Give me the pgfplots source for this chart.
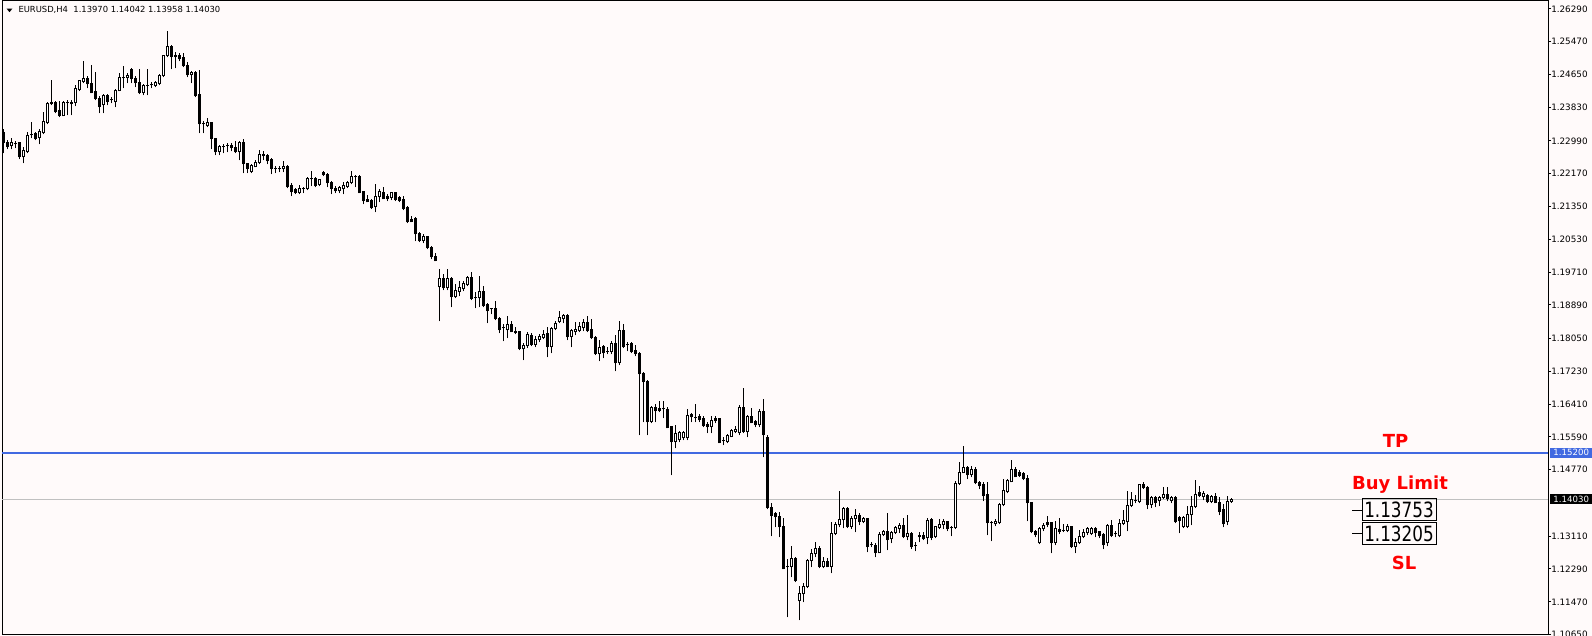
\documentclass[border=0pt]{standalone}
\usepackage{fontspec}
\setmainfont{DejaVu Sans}
\usepackage{graphicx}
\usepackage{pgfplots}
\usepackage{pgfplotstable}
\pgfplotsset{compat=1.18}
\definecolor{snow}{RGB}{255,250,250}
\definecolor{royal}{RGB}{65,105,225}
\definecolor{silverl}{RGB}{192,192,192}
\definecolor{mtred}{RGB}{255,0,0}

\pgfplotstableread{
i o h l c
0 1.23190 1.23265 1.22690 1.22940
1 1.22940 1.22990 1.22790 1.22840
2 1.22865 1.23040 1.22790 1.22940
3 1.22915 1.22965 1.22815 1.22915
4 1.22940 1.22940 1.22540 1.22590
5 1.22590 1.22815 1.22440 1.22740
6 1.22715 1.23190 1.22690 1.23115
7 1.23140 1.23440 1.23065 1.23140
8 1.23165 1.23190 1.23015 1.23040
9 1.23065 1.23265 1.22915 1.23215
10 1.23190 1.23690 1.23165 1.23465
11 1.23440 1.23940 1.23415 1.23915
12 1.23940 1.24490 1.23890 1.23915
13 1.23940 1.23965 1.23690 1.23715
14 1.23740 1.23965 1.23590 1.23615
15 1.23615 1.23965 1.23615 1.23940
16 1.23940 1.23990 1.23640 1.23940
17 1.23915 1.23990 1.23640 1.23940
18 1.23940 1.24365 1.23865 1.24290
19 1.24265 1.24490 1.24240 1.24490
20 1.24465 1.24965 1.24440 1.24540
21 1.24540 1.24590 1.24315 1.24415
22 1.24415 1.24865 1.24190 1.24190
23 1.24215 1.24690 1.24015 1.24040
24 1.24040 1.24090 1.23690 1.23840
25 1.23890 1.24140 1.23690 1.24115
26 1.24115 1.24140 1.23890 1.23965
27 1.24015 1.24065 1.23940 1.24015
28 1.23965 1.24265 1.23840 1.24240
29 1.24240 1.24665 1.24240 1.24565
30 1.24565 1.24840 1.24315 1.24565
31 1.24565 1.24665 1.24440 1.24615
32 1.24765 1.24790 1.24440 1.24540
33 1.24540 1.24590 1.24340 1.24440
34 1.24440 1.24765 1.24165 1.24190
35 1.24190 1.24390 1.24140 1.24365
36 1.24365 1.24765 1.24140 1.24365
37 1.24390 1.24440 1.24315 1.24390
38 1.24365 1.24465 1.24340 1.24440
39 1.24415 1.24640 1.24390 1.24615
40 1.24615 1.25115 1.24590 1.25115
41 1.25115 1.25715 1.25090 1.25340
42 1.25340 1.25365 1.24790 1.25090
43 1.25115 1.25190 1.24815 1.25090
44 1.25115 1.25165 1.24990 1.25040
45 1.25065 1.25165 1.24840 1.24865
46 1.24865 1.24940 1.24590 1.24640
47 1.24640 1.24715 1.24440 1.24690
48 1.24690 1.24715 1.24090 1.24115
49 1.24140 1.24740 1.23190 1.23415
50 1.23415 1.23465 1.23190 1.23415
51 1.23365 1.23540 1.23340 1.23440
52 1.23440 1.23440 1.22790 1.23040
53 1.23040 1.23040 1.22640 1.22715
54 1.22715 1.22865 1.22640 1.22840
55 1.22840 1.22890 1.22690 1.22840
56 1.22865 1.22915 1.22715 1.22865
57 1.22865 1.22915 1.22740 1.22815
58 1.22815 1.22965 1.22690 1.22715
59 1.22715 1.22965 1.22515 1.22940
60 1.22940 1.23015 1.22190 1.22415
61 1.22415 1.22415 1.22190 1.22290
62 1.22215 1.22390 1.22190 1.22365
63 1.22340 1.22490 1.22340 1.22440
64 1.22440 1.22740 1.22415 1.22640
65 1.22640 1.22715 1.22515 1.22615
66 1.22615 1.22640 1.22415 1.22490
67 1.22515 1.22540 1.22165 1.22290
68 1.22290 1.22340 1.22190 1.22290
69 1.22290 1.22340 1.22215 1.22290
70 1.22290 1.22465 1.22215 1.22340
71 1.22340 1.22365 1.21815 1.21840
72 1.21865 1.21915 1.21615 1.21715
73 1.21765 1.21790 1.21665 1.21690
74 1.21690 1.21865 1.21665 1.21790
75 1.21790 1.21815 1.21690 1.21790
76 1.21790 1.22065 1.21765 1.22040
77 1.22040 1.22215 1.21865 1.22040
78 1.22040 1.22065 1.21840 1.21865
79 1.21890 1.22015 1.21865 1.22015
80 1.22190 1.22215 1.22115 1.22140
81 1.22140 1.22165 1.21840 1.21940
82 1.21940 1.21965 1.21665 1.21790
83 1.21790 1.21840 1.21690 1.21740
84 1.21740 1.21840 1.21690 1.21815
85 1.21790 1.21940 1.21665 1.21865
86 1.21840 1.21965 1.21815 1.21940
87 1.21940 1.22215 1.21915 1.22090
88 1.22090 1.22115 1.21840 1.22090
89 1.22090 1.22115 1.21690 1.21690
90 1.21715 1.21715 1.21415 1.21490
91 1.21515 1.21615 1.21465 1.21465
92 1.21490 1.21515 1.21290 1.21315
93 1.21340 1.21890 1.21215 1.21590
94 1.21590 1.21765 1.21465 1.21715
95 1.21690 1.21815 1.21540 1.21540
96 1.21590 1.21640 1.21490 1.21540
97 1.21565 1.21690 1.21515 1.21690
98 1.21690 1.21690 1.21490 1.21515
99 1.21565 1.21590 1.21465 1.21490
100 1.21515 1.21590 1.21265 1.21290
101 1.21315 1.21340 1.20940 1.20965
102 1.21015 1.21090 1.20965 1.20965
103 1.21040 1.21065 1.20490 1.20665
104 1.20665 1.20690 1.20465 1.20490
105 1.20490 1.20640 1.20440 1.20590
106 1.20590 1.20590 1.20290 1.20315
107 1.20315 1.20340 1.20040 1.20090
108 1.20090 1.20165 1.19990 1.19990
109 1.19340 1.19765 1.18490 1.19540
110 1.19540 1.19640 1.19265 1.19315
111 1.19315 1.19765 1.19265 1.19540
112 1.19540 1.19565 1.18840 1.19090
113 1.19090 1.19390 1.19065 1.19240
114 1.19215 1.19465 1.19115 1.19315
115 1.19290 1.19465 1.19240 1.19415
116 1.19390 1.19590 1.19365 1.19565
117 1.19565 1.19690 1.19015 1.19040
118 1.19065 1.19190 1.18815 1.19065
119 1.19065 1.19590 1.18840 1.19215
120 1.19215 1.19340 1.18840 1.18865
121 1.18890 1.18915 1.18440 1.18740
122 1.18790 1.18790 1.18665 1.18790
123 1.18790 1.18965 1.18515 1.18540
124 1.18540 1.18565 1.18190 1.18265
125 1.18315 1.18390 1.17990 1.18315
126 1.18265 1.18590 1.18065 1.18390
127 1.18390 1.18465 1.18215 1.18215
128 1.18215 1.18315 1.18165 1.18190
129 1.18215 1.18215 1.17765 1.17790
130 1.17790 1.17915 1.17515 1.17865
131 1.17865 1.18190 1.17815 1.18140
132 1.18115 1.18165 1.17865 1.17890
133 1.17890 1.18090 1.17840 1.18015
134 1.18015 1.18140 1.17965 1.18090
135 1.18065 1.18240 1.18040 1.18140
136 1.18165 1.18315 1.17590 1.17840
137 1.17840 1.18315 1.17690 1.18290
138 1.18290 1.18465 1.18265 1.18415
139 1.18465 1.18715 1.18440 1.18565
140 1.18540 1.18640 1.18440 1.18615
141 1.18615 1.18640 1.18015 1.18090
142 1.18090 1.18265 1.17840 1.18240
143 1.18215 1.18440 1.18140 1.18265
144 1.18240 1.18440 1.18215 1.18340
145 1.18315 1.18515 1.18240 1.18440
146 1.18440 1.18590 1.18215 1.18240
147 1.18265 1.18515 1.18040 1.18065
148 1.18065 1.18090 1.17640 1.17665
149 1.17665 1.17990 1.17490 1.17815
150 1.17840 1.17865 1.17565 1.17690
151 1.17715 1.17815 1.17665 1.17715
152 1.17715 1.17965 1.17665 1.17915
153 1.17915 1.18115 1.17240 1.17440
154 1.17440 1.18465 1.17390 1.18240
155 1.18240 1.18390 1.17815 1.17840
156 1.17890 1.17940 1.17740 1.17890
157 1.17915 1.17940 1.17690 1.17715
158 1.17740 1.17865 1.17615 1.17665
159 1.17665 1.17690 1.15640 1.17165
160 1.17165 1.17190 1.15965 1.16965
161 1.16965 1.16990 1.15640 1.15965
162 1.15965 1.16340 1.15940 1.16315
163 1.16315 1.16390 1.15965 1.16240
164 1.16290 1.16465 1.16215 1.16240
165 1.16290 1.16465 1.16065 1.16290
166 1.16265 1.16315 1.15815 1.15815
167 1.15840 1.15840 1.14640 1.15465
168 1.15465 1.15865 1.15315 1.15665
169 1.15515 1.15715 1.15465 1.15690
170 1.15565 1.15715 1.15515 1.15690
171 1.15565 1.16265 1.15515 1.16115
172 1.16140 1.16165 1.15965 1.16090
173 1.16065 1.16390 1.15965 1.16065
174 1.16090 1.16140 1.15965 1.16015
175 1.16040 1.16090 1.15840 1.15865
176 1.15890 1.15940 1.15690 1.15840
177 1.15840 1.16090 1.15690 1.15990
178 1.16040 1.16090 1.15940 1.15990
179 1.16040 1.16040 1.15440 1.15440
180 1.15490 1.15565 1.15390 1.15490
181 1.15465 1.15640 1.15440 1.15615
182 1.15590 1.15765 1.15590 1.15740
183 1.15715 1.15840 1.15690 1.15765
184 1.15690 1.16365 1.15640 1.16315
185 1.16315 1.16790 1.15690 1.15715
186 1.15715 1.16115 1.15590 1.16090
187 1.16090 1.16290 1.15940 1.15940
188 1.15965 1.15990 1.15840 1.15890
189 1.15890 1.16265 1.15840 1.16215
190 1.16215 1.16515 1.15090 1.15640
191 1.15565 1.15615 1.13790 1.13815
192 1.13815 1.13915 1.13115 1.13615
193 1.13665 1.13690 1.13340 1.13590
194 1.13590 1.13690 1.13090 1.13340
195 1.13340 1.13540 1.12290 1.12290
196 1.12340 1.12515 1.11090 1.12340
197 1.12340 1.12840 1.12090 1.12540
198 1.12540 1.12565 1.11965 1.11990
199 1.11490 1.11840 1.11015 1.11665
200 1.11665 1.11915 1.11465 1.11840
201 1.11840 1.12515 1.11815 1.12490
202 1.12490 1.12765 1.12340 1.12665
203 1.12665 1.12940 1.12590 1.12790
204 1.12790 1.12840 1.12315 1.12340
205 1.12340 1.12565 1.12315 1.12465
206 1.12465 1.12540 1.12340 1.12340
207 1.12340 1.13440 1.12190 1.13165
208 1.13165 1.13440 1.13140 1.13390
209 1.13390 1.14215 1.13340 1.13515
210 1.13515 1.13815 1.13315 1.13790
211 1.13790 1.13815 1.13315 1.13340
212 1.13340 1.13590 1.13290 1.13540
213 1.13540 1.13765 1.13215 1.13615
214 1.13615 1.13665 1.13390 1.13465
215 1.13465 1.13565 1.13440 1.13540
216 1.13540 1.13540 1.12715 1.12840
217 1.12890 1.12940 1.12840 1.12890
218 1.12865 1.12915 1.12590 1.12690
219 1.12690 1.13190 1.12690 1.13140
220 1.13140 1.13240 1.13115 1.13215
221 1.13215 1.13665 1.12765 1.13015
222 1.13040 1.13215 1.12940 1.13190
223 1.13190 1.13340 1.13165 1.13315
224 1.13290 1.13415 1.13190 1.13365
225 1.13365 1.13540 1.13065 1.13090
226 1.13090 1.13615 1.13015 1.13165
227 1.13165 1.13190 1.12790 1.12840
228 1.12865 1.12940 1.12740 1.12865
229 1.13090 1.13190 1.12965 1.13115
230 1.13115 1.13190 1.13015 1.13040
231 1.13065 1.13540 1.12915 1.13490
232 1.13515 1.13540 1.13015 1.13065
233 1.13090 1.13340 1.13065 1.13340
234 1.13315 1.13515 1.13290 1.13390
235 1.13390 1.13515 1.13290 1.13465
236 1.13465 1.13465 1.13240 1.13290
237 1.13315 1.13340 1.13115 1.13315
238 1.13315 1.14465 1.13290 1.14415
239 1.14415 1.14940 1.14390 1.14690
240 1.14690 1.15340 1.14690 1.14815
241 1.14815 1.14840 1.14540 1.14640
242 1.14640 1.14840 1.14590 1.14765
243 1.14765 1.14815 1.14415 1.14440
244 1.14440 1.14465 1.14290 1.14365
245 1.14390 1.14440 1.13990 1.14115
246 1.14140 1.14440 1.13140 1.13440
247 1.13440 1.13465 1.12990 1.13440
248 1.13415 1.13515 1.13365 1.13465
249 1.13440 1.13915 1.13415 1.13890
250 1.13890 1.14515 1.13865 1.14240
251 1.14215 1.14515 1.14190 1.14490
252 1.14465 1.14990 1.14465 1.14765
253 1.14765 1.14815 1.14590 1.14590
254 1.14690 1.14740 1.14590 1.14615
255 1.14665 1.14690 1.14515 1.14540
256 1.14540 1.14615 1.13490 1.13940
257 1.13940 1.13940 1.13190 1.13215
258 1.13215 1.13240 1.13090 1.13140
259 1.12940 1.13315 1.12915 1.13290
260 1.13290 1.13415 1.13240 1.13365
261 1.13440 1.13590 1.13340 1.13390
262 1.13440 1.13440 1.12690 1.12940
263 1.12940 1.13465 1.12890 1.13290
264 1.13265 1.13540 1.13165 1.13215
265 1.13240 1.13390 1.13215 1.13240
266 1.13240 1.13390 1.13215 1.13340
267 1.13340 1.13340 1.12815 1.12840
268 1.12840 1.13040 1.12690 1.12940
269 1.12940 1.13240 1.12915 1.13090
270 1.13090 1.13265 1.13065 1.13190
271 1.13190 1.13315 1.13140 1.13290
272 1.13165 1.13315 1.13140 1.13290
273 1.13290 1.13315 1.13090 1.13190
274 1.13215 1.13215 1.13065 1.13115
275 1.13140 1.13165 1.12790 1.12890
276 1.12940 1.13390 1.12865 1.13365
277 1.13365 1.13490 1.13090 1.13115
278 1.13165 1.13215 1.13090 1.13165
279 1.13115 1.13515 1.13090 1.13415
280 1.13415 1.13740 1.13390 1.13490
281 1.13465 1.14215 1.13240 1.13865
282 1.13865 1.14190 1.13840 1.14015
283 1.13990 1.14115 1.13940 1.13990
284 1.13965 1.14390 1.13940 1.14390
285 1.14390 1.14440 1.14290 1.14315
286 1.14315 1.14340 1.13790 1.13890
287 1.13890 1.14090 1.13815 1.14065
288 1.14065 1.14090 1.13840 1.13940
289 1.13990 1.14090 1.13865 1.14065
290 1.14065 1.14315 1.14040 1.14140
291 1.14140 1.14315 1.13990 1.14040
292 1.13990 1.14090 1.13940 1.14065
293 1.14065 1.14090 1.13440 1.13465
294 1.13565 1.13590 1.13190 1.13490
295 1.13340 1.13590 1.13315 1.13565
296 1.13340 1.13840 1.13315 1.13640
297 1.13640 1.14090 1.13390 1.13840
298 1.13840 1.14490 1.13815 1.14140
299 1.14190 1.14340 1.14090 1.14115
300 1.14090 1.14215 1.14015 1.14165
301 1.14115 1.14140 1.13940 1.13965
302 1.13965 1.14115 1.13940 1.14090
303 1.14090 1.14165 1.13940 1.13940
304 1.13940 1.14065 1.13640 1.13715
305 1.13765 1.13890 1.13340 1.13415
306 1.13465 1.14090 1.13390 1.13970
307 1.13970 1.14042 1.13958 1.14030
}\candles

\begin{document}
\begin{tikzpicture}[x=1pt,y=1pt]
\useasboundingbox (-2,-1) rectangle (1590,635);
\fill[snow] (-2,-1) rectangle (1590,635);
\begin{axis}[
  at={(0pt,0pt)}, anchor=south west,
  scale only axis, width=1546pt, height=634pt,
  xmin=-0.375, xmax=386.125,
  ymin=1.1064, ymax=1.2649,
  clip=false,
  axis line style={black, line width=1pt},
  xtick=\empty,
  scaled y ticks=false,
  ytick={1.2629,1.2547,1.2465,1.2383,1.2299,1.2217,1.2135,1.2053,1.1971,1.1889,1.1805,1.1723,1.1641,1.1559,1.1477,1.1311,1.1229,1.1147,1.1065},
  yticklabels={1.26290,1.25470,1.24650,1.23830,1.22990,1.22170,1.21350,1.20530,1.19710,1.18890,1.18050,1.17230,1.16410,1.15590,1.14770,1.13110,1.12290,1.11470,1.10650},
  ytick pos=right, yticklabel pos=right,
  tick align=outside, major tick length=3pt,
  tick style={black, line width=1pt},
  yticklabel style={font=\fontsize{8.8}{10}\selectfont, anchor=west, inner sep=0pt, text=black},
]
\addplot[royal, line width=2pt, forget plot] coordinates {(-0.375,1.152) (386.125,1.152)};
\addplot[silverl, line width=1pt, forget plot] coordinates {(-0.375,1.1403) (386.125,1.1403)};
% wicks
\addplot[draw=none, mark=none, forget plot,
  error bars/.cd, y dir=plus, y explicit, error mark=none,
  error bar style={draw=black, line width=1pt}]
  table[x=i, y expr={\thisrow{l}-0.000125}, y error plus expr={\thisrow{h}-\thisrow{l}+0.00025}] {\candles};
% bodies
\addplot[draw=none, mark=none, forget plot,
  error bars/.cd, y dir=plus, y explicit, error mark=none,
  error bar style={draw=black, line width=3pt}]
  table[x=i, y expr={min(\thisrow{o},\thisrow{c})-0.000125}, y error plus expr={abs(\thisrow{c}-\thisrow{o})+0.00025}] {\candles};
% hollow interiors of rising candles
\addplot[draw=none, mark=none, forget plot,
  error bars/.cd, y dir=plus, y explicit, error mark=none,
  error bar style={draw=white, line width=1pt}]
  table[x=i, y expr={\thisrow{o}+0.000125}, y error plus expr={max(\thisrow{c}-\thisrow{o}-0.00025,0)}] {\candles};
\coordinate (tpR) at (axis cs:386.125,1.152);
\coordinate (bidR) at (axis cs:386.125,1.1403);
\end{axis}
% price boxes on the scale
\node[fill=royal, text=white, anchor=west, minimum width=42pt, minimum height=10pt, inner sep=0pt,
  font=\fontsize{8.6}{10}\selectfont] at ([xshift=2pt]tpR) {1.15200};
\node[fill=black, text=white, anchor=west, minimum width=42pt, minimum height=10pt, inner sep=0pt,
  font=\fontsize{8.6}{10}\selectfont] at ([xshift=2pt]bidR) {1.14030};
% title
\fill[black] (4.7,626.3) -- (10.3,626.3) -- (7.5,622.8) -- cycle;
\node[anchor=base west, inner sep=0pt, font=\fontsize{8.4}{10}\selectfont] at (16.3,622.3)
  {EURUSD,H4\ \ 1.13970 1.14042 1.13958 1.14030};
% annotations
\node[anchor=base, inner sep=0pt, text=mtred, font=\fontsize{18}{20}\selectfont\bfseries] at (1393.5,187) {TP};
\node[anchor=base, inner sep=0pt, text=mtred, font=\fontsize{18}{20}\selectfont\bfseries] at (1398,145) {Buy Limit};
\node[anchor=base, inner sep=0pt, text=mtred, font=\fontsize{18}{20}\selectfont\bfseries] at (1402,65) {SL};
\draw[black, line width=1pt] (1360,114) rectangle (1434,136);
\draw[black, line width=1pt] (1360,90) rectangle (1434,112);
\draw[black, line width=1pt] (1350,124.5) -- (1360,124.5);
\draw[black, line width=1pt] (1350,101.5) -- (1360,101.5);
\node[inner sep=0pt] at (1397,125) {\scalebox{0.8}[1]{\fontsize{21}{24}\selectfont 1.13753}};
\node[inner sep=0pt] at (1397,101) {\scalebox{0.8}[1]{\fontsize{21}{24}\selectfont 1.13205}};
\end{tikzpicture}
\end{document}
